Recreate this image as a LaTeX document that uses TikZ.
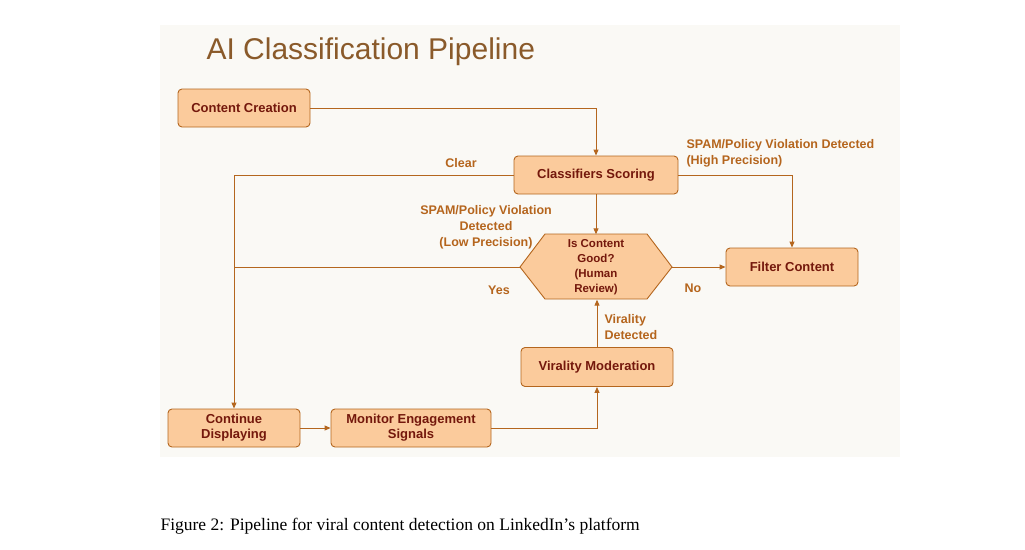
\documentclass[tikz,border=0pt]{standalone}
\usepackage{fontspec}
\setmainfont{Liberation Serif}
\newfontfamily\sansf{Liberation Sans}
\usetikzlibrary{arrows.meta}
\definecolor{panel}{HTML}{FAF9F5}
\definecolor{boxfill}{HTML}{FBCB9C}
\definecolor{boxline}{HTML}{B4661E}
\definecolor{boxtext}{HTML}{74180C}
\definecolor{lbl}{HTML}{B5651D}
\definecolor{ttl}{HTML}{8A5A2A}
\begin{document}
\begin{tikzpicture}[x=1pt,y=-1pt,
  box/.style={draw=boxline,fill=boxfill,rounded corners=4pt,line width=0.9pt,
    font=\sansf\bfseries\fontsize{13}{15}\selectfont,text=boxtext,align=center,inner sep=0pt},
  conn/.style={draw=boxline,line width=1pt},
  arr/.style={conn,-{Triangle[length=6pt,width=5pt]}},
  lab/.style={font=\sansf\bfseries\fontsize{12.5}{16}\selectfont,text=lbl}]
\useasboundingbox (0,0) rectangle (1025,549);
\fill[white] (0,0) rectangle (1025,549);
\fill[panel] (160,25) rectangle (900,457);
\node[anchor=west,font=\sansf\fontsize{30}{34}\selectfont,text=ttl] (title) at (203,52) {AI Classification Pipeline};
\node[box,minimum width=132pt,minimum height=38pt] (cc) at (244,108) {Content Creation};
\node[box,minimum width=164pt,minimum height=38pt] (cs) at (596,175) {Classifiers Scoring};
\node[box,minimum width=132pt,minimum height=38pt] (fc) at (792,267) {Filter Content};
\node[box,minimum width=152pt,minimum height=39pt] (vm) at (597,367) {Virality Moderation};
\node[box,minimum width=132pt,minimum height=38pt] (cd) at (234,428) {Continue\\Displaying};
\node[box,minimum width=160pt,minimum height=38pt] (me) at (411,428) {Monitor Engagement\\Signals};
\draw[draw=boxline,fill=boxfill,line width=0.9pt] (520,267)--(545,234)--(647,234)--(672,267)--(647,299)--(545,299)--cycle;
\node[minimum width=152pt,minimum height=65pt,inner sep=0pt,align=center,
  font=\sansf\bfseries\fontsize{11.5}{15}\selectfont,text=boxtext] (hx) at (596,267) {Is Content\\Good?\\(Human\\Review)};
\coordinate (j) at (234,267);
\draw[arr] (cc.east) -| (cs.north);
\draw[arr] (cs.west) -| (cd.north);
\draw[arr] (cs.south) -- (hx.north);
\draw[arr] (cs.east) -| (fc.north);
\draw[conn] (hx.west) -- (j);
\draw[arr] (hx.east) -- (fc.west);
\draw[arr] (vm.north) -- (vm.north |- hx.south);
\draw[arr] (me.east) -| (vm.south);
\draw[arr] (cd.east) -- (me.west);
\node[lab] (l1) at (461,163) {Clear};
\node[lab,align=center] (l2) at (486,227) {SPAM/Policy Violation\\Detected\\(Low Precision)};
\node[lab,align=left,anchor=west] (l3) at (683,153) {SPAM/Policy Violation Detected\\(High Precision)};
\node[lab] (l4) at (499,290) {Yes};
\node[lab] (l5) at (693,288) {No};
\node[lab,align=left,anchor=west] (l6) at (601,327) {Virality\\Detected};
\node[anchor=west,font=\fontsize{17.5}{20}\selectfont] (cap) at (157,526) {Figure 2: Pipeline for viral content detection on LinkedIn’s platform};
\end{tikzpicture}
\end{document}
